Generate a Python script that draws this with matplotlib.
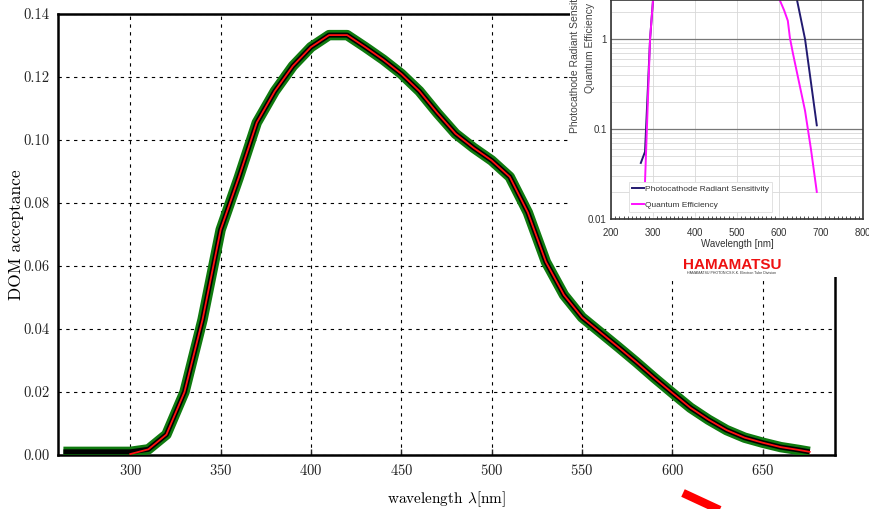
import matplotlib
matplotlib.use("Agg")
import matplotlib.pyplot as plt
from matplotlib.ticker import FormatStrFormatter, MultipleLocator, FixedLocator, NullFormatter
from matplotlib.patches import Rectangle
from matplotlib.lines import Line2D

# DOM acceptance curve (main plot)
wavelength = [263, 270, 280, 290, 300, 310, 320, 330, 340, 350, 360, 370, 380, 390,
              400, 410, 420, 430, 440, 450, 460, 470, 480, 490, 500, 510, 520, 530,
              540, 550, 560, 570, 580, 590, 600, 610, 620, 630, 640, 650, 660, 670, 676]
acceptance = [0.0010, 0.0010, 0.0010, 0.0010, 0.0010, 0.0018, 0.0065, 0.020, 0.043, 0.0715,
              0.088, 0.1055, 0.1155, 0.1235, 0.1295, 0.1333, 0.1333, 0.1295, 0.1255, 0.1210,
              0.1155, 0.1085, 0.1020, 0.0975, 0.0935, 0.0883, 0.0770, 0.0613, 0.0508, 0.0437,
              0.0390, 0.0343, 0.0295, 0.0245, 0.0197, 0.0150, 0.0112, 0.0079, 0.0055, 0.0039,
              0.0025, 0.0016, 0.0010]
red_start = 300

xticks = [300, 350, 400, 450, 500, 550, 600, 650]
yticks = [0.00, 0.02, 0.04, 0.06, 0.08, 0.10, 0.12, 0.14]

# pasted Hamamatsu datasheet curves (inset)
pcrs_wl = [271, 281, 293, 300, 320, 420, 600, 630, 643, 662, 675, 690]
pcrs = [0.042, 0.056, 1.0, 2.7, 20, 80, 15, 6.0, 2.7, 1.0, 0.36, 0.11]
qe_wl = [281, 293, 300, 320, 390, 595, 602, 612, 621, 626, 633, 645, 662, 676, 690]
qe = [0.026, 1.0, 2.7, 15, 25, 4.0, 2.7, 2.1, 1.6, 1.03, 0.70, 0.38, 0.16, 0.06, 0.02]
inset_xticks = [200, 300, 400, 500, 600, 700, 800]

plt.rcParams['mathtext.fontset'] = 'cm'
plt.rcParams['axes.formatter.use_mathtext'] = True

W, H = 870, 509
fig = plt.figure(figsize=(W / 100, H / 100), dpi=100)

def fx(px):
    return px / W

def fy(py):
    return 1 - py / H

# ---- main plot ----
ax = fig.add_axes([fx(58), fy(455), fx(835) - fx(58), fy(14) - fy(455)])
ax.plot(wavelength, acceptance, color='#0f7a0f', lw=7.5, solid_capstyle='butt', solid_joinstyle='round', zorder=3)
ax.plot(wavelength, acceptance, color='black', lw=3.6, solid_capstyle='butt', solid_joinstyle='round', zorder=4)
wl_red = [w for w in wavelength if w >= red_start]
acc_red = [a for w, a in zip(wavelength, acceptance) if w >= red_start]
acc_red[0] = 0.0003
ax.plot(wl_red, acc_red, color='#ff1010', lw=1.3, solid_joinstyle='round', zorder=5)

ax.set_xlim(260, 690)
ax.set_ylim(0, 0.14)
ax.set_xticks(xticks)
ax.set_yticks(yticks)
ax.yaxis.set_major_formatter(FormatStrFormatter('%.2f'))
ax.grid(True, color='black', linestyle=(0, (3, 4)), lw=0.8)
ax.tick_params(direction='in', length=4, width=1, labelsize=10.5, colors='#222222', pad=6)
ax.tick_params(axis='y', length=0)
for lab in ax.get_xticklabels() + ax.get_yticklabels():
    lab.set_family('cmr10')
for s in ax.spines.values():
    s.set_linewidth(1.8)
ax.set_xlabel(r'wavelength $\lambda$[nm]', family='cmr10', fontsize=11, labelpad=8)
ax.set_ylabel('DOM acceptance', family='cmr10', fontsize=12.5, va='center')
ax.yaxis.set_label_coords((16 - 58) / 777, 0.5)

# white patch where the datasheet image is pasted
fig.add_artist(Rectangle((fx(570), fy(277)), 1 - fx(570), 1 - fy(277), transform=fig.transFigure,
                         facecolor='white', edgecolor='none', zorder=1))

# ---- inset ----
ins = fig.add_axes([fx(611), fy(219), fx(863) - fx(611), 1 - fy(219)])
ins.set_zorder(2)
ins.plot(pcrs_wl, pcrs, color='#221a70', lw=1.4, label='Photocathode Radiant Sensitivity')
ins.plot(qe_wl, qe, color='#ff10ff', lw=1.4, label='Quantum Efficiency')
ins.set_yscale('log')
ins.set_xlim(200, 800)
ins.set_ylim(0.01, 2.72)
ins.set_xticks(inset_xticks)
ins.xaxis.set_minor_locator(MultipleLocator(10))
ins.yaxis.set_major_locator(FixedLocator([0.01, 0.1, 1]))
ins.set_yticklabels(['0.01', '0.1', '1'])
ins.yaxis.set_minor_formatter(NullFormatter())
ins.grid(True, which='major', axis='y', color='#777777', lw=0.9)
ins.grid(True, which='minor', axis='y', color='#d8d8d8', lw=0.6)
ins.grid(True, which='major', axis='x', color='#d8d8d8', lw=0.6)
ins.tick_params(which='both', direction='in', labelsize=7, colors='#333333')
ins.tick_params(axis='x', which='minor', length=2.5, width=0.6)
ins.tick_params(axis='x', which='major', length=0, pad=5)
ins.tick_params(axis='y', which='both', length=0, pad=3)
for s in ins.spines.values():
    s.set_color('#333333')
    s.set_linewidth(1.2)
ins.set_xlabel('Wavelength [nm]', fontsize=7, color='#333333', labelpad=1, family='Liberation Sans')
for lab in ins.get_xticklabels() + ins.get_yticklabels():
    lab.set_family('Liberation Sans')
leg = ins.legend(loc='lower left', bbox_to_anchor=(0.071, 0.032), borderaxespad=0,
                 handlelength=1.4, handletextpad=0.1, labelspacing=0.9, fancybox=False,
                 edgecolor='#dddddd', framealpha=1, prop={'family': 'Liberation Sans', 'size': 6})
leg.get_frame().set_linewidth(0.6)
for t in leg.get_texts():
    t.set_color('#333333')

# datasheet y label, cropped at the top of the pasted image
fig.text(fx(575), fy(133), 'Photocathode Radiant Sensitivity', rotation=90, ha='center', va='bottom',
         fontsize=7.5, color='#444444', family='Liberation Sans')
fig.text(fx(590), fy(93), 'Quantum Efficiency', rotation=90, ha='center', va='bottom',
         fontsize=7.5, color='#444444', family='Liberation Sans')
fig.text(fx(732), fy(265), 'HAMAMATSU', ha='center', va='center', fontsize=11, fontweight='bold',
         color='#ee1111', family='Liberation Sans')
fig.text(fx(732), fy(273), 'HAMAMATSU PHOTONICS K.K. Electron Tube Division', ha='center', va='center',
         fontsize=2.6, color='#333333', family='Liberation Sans')

# red arrow shaft at the bottom
fig.add_artist(Line2D([fx(683), fx(724)], [fy(493), fy(512)], transform=fig.transFigure,
                      color='#ff0000', lw=6, solid_capstyle='butt', zorder=3))

fig.savefig('out.png', dpi=100)
